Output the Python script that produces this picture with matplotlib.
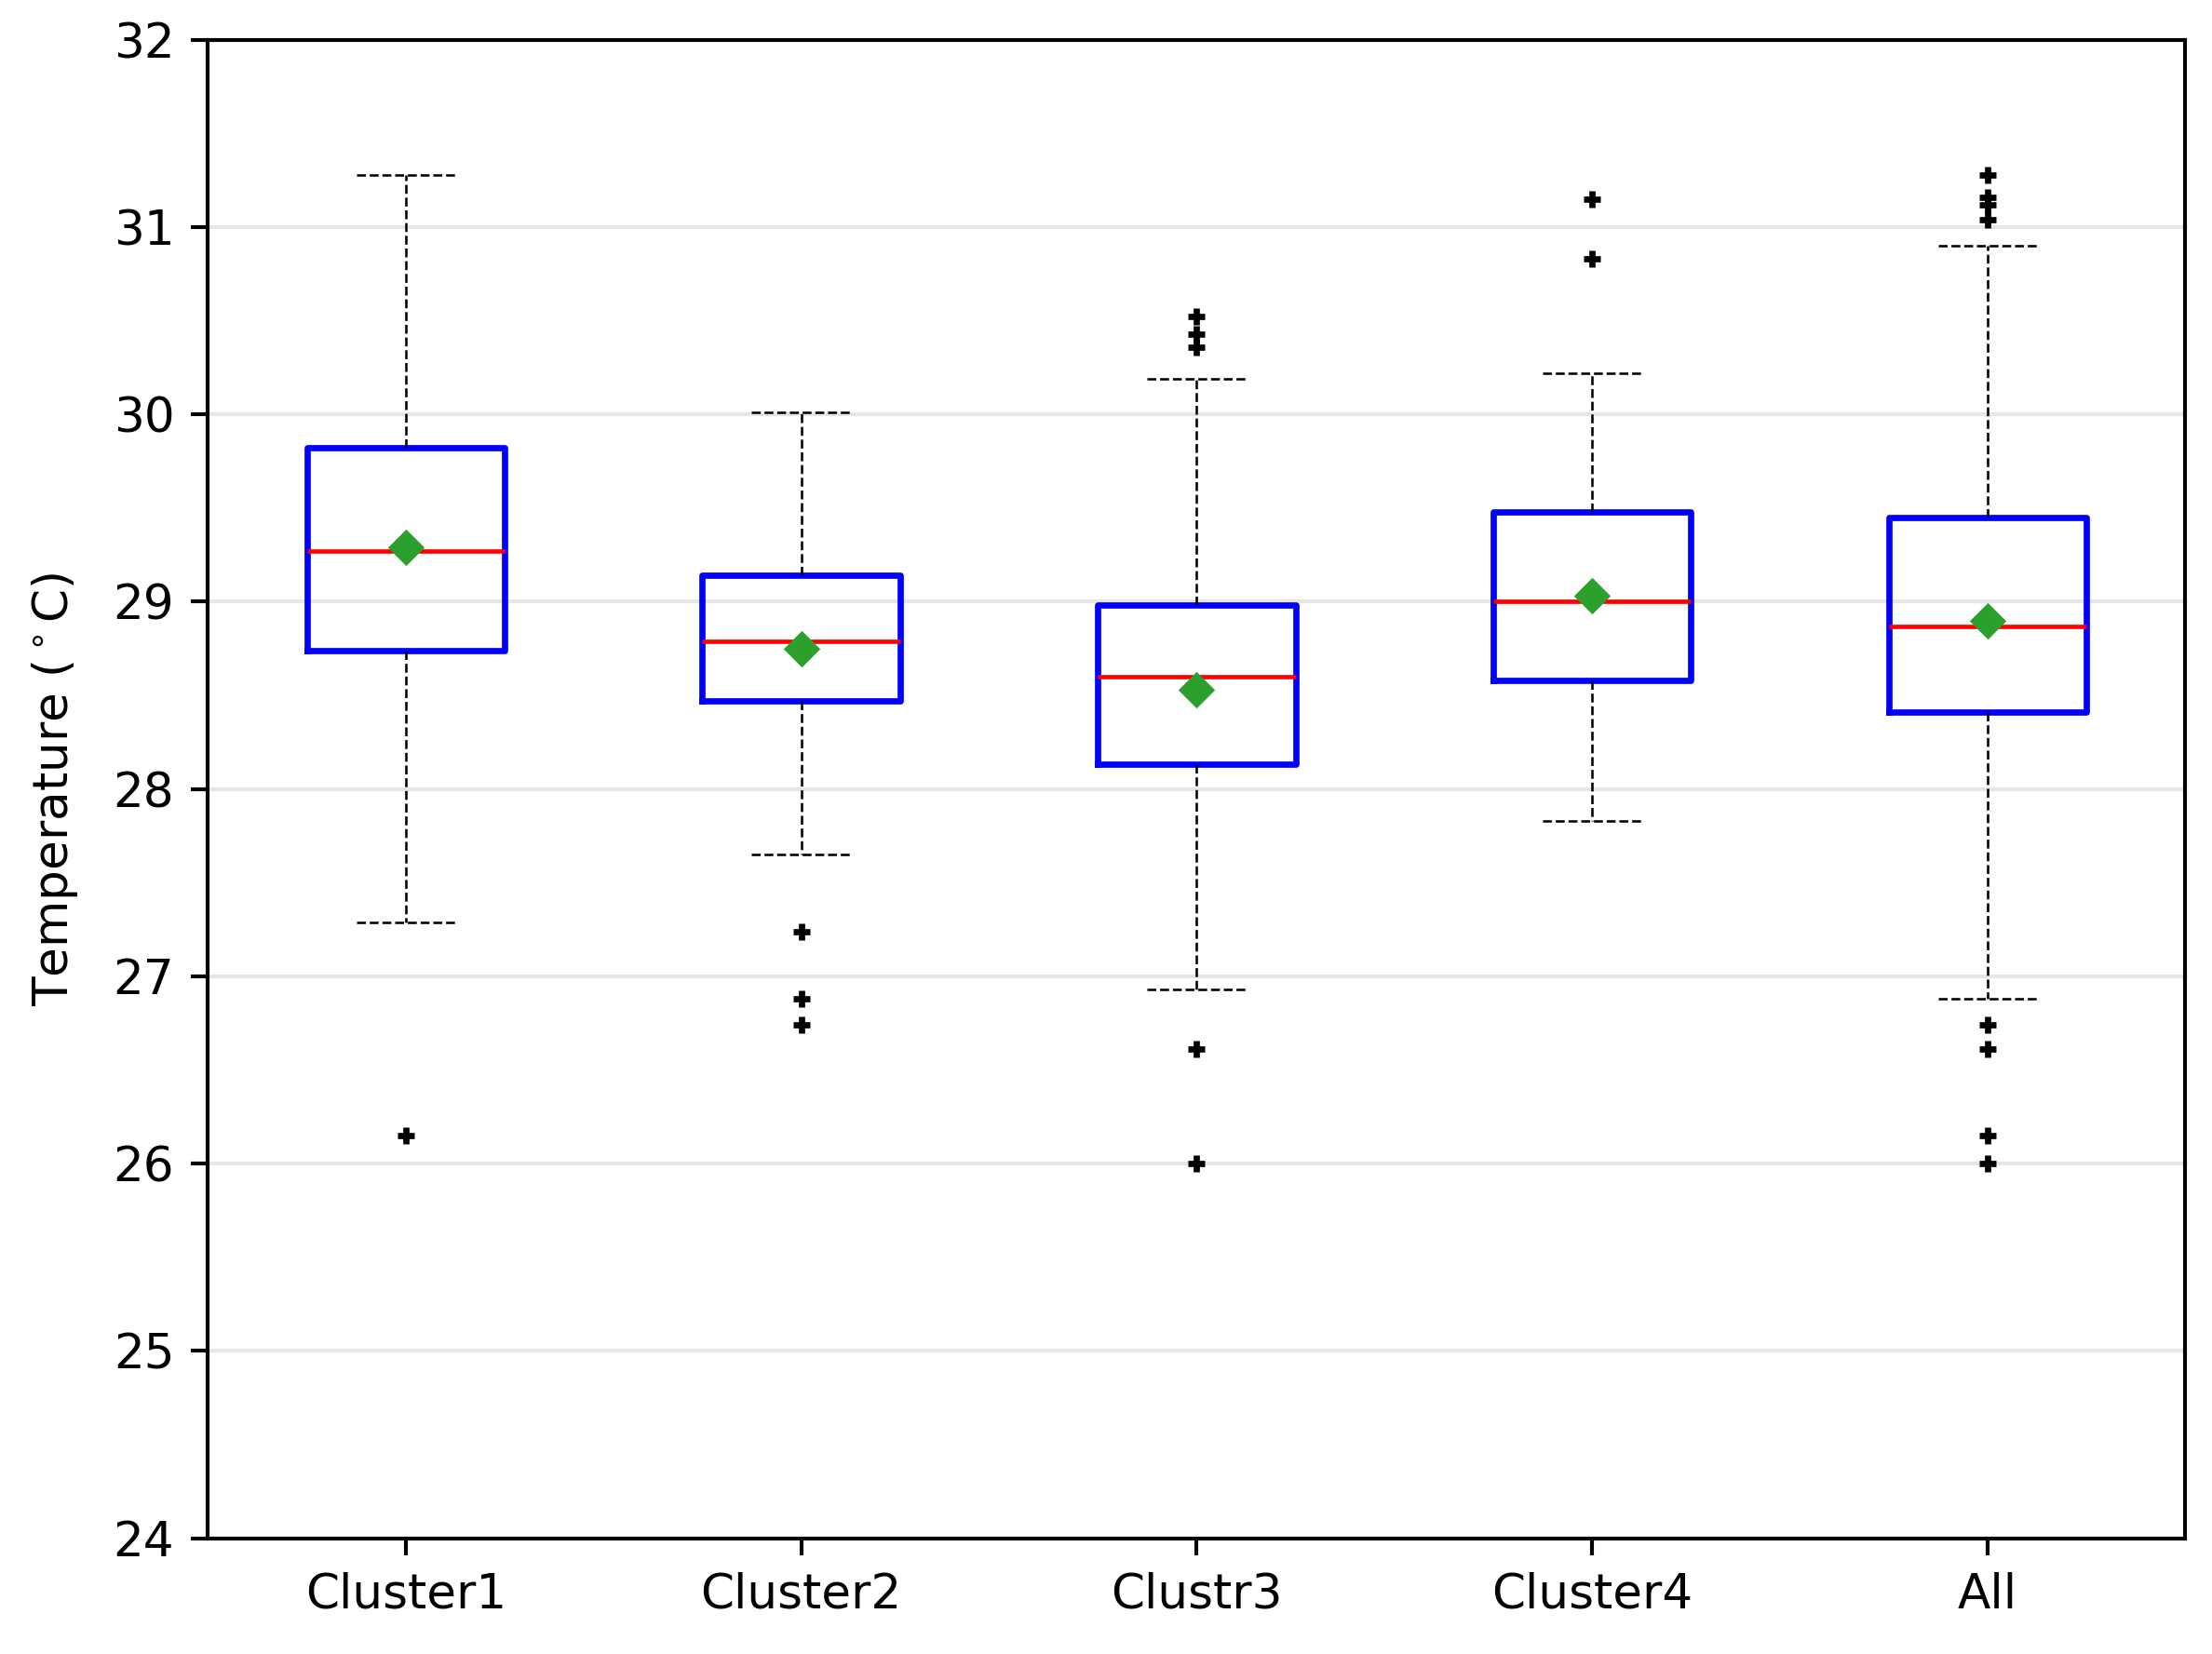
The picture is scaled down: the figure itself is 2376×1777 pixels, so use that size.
import matplotlib
matplotlib.use('Agg')
import matplotlib.pyplot as plt

# values
labels = ['Cluster1', 'Cluster2', 'Clustr3', 'Cluster4', 'All']
whislo = [27.29, 27.65, 26.93, 27.83, 26.88]
q1     = [28.74, 28.47, 28.13, 28.58, 28.41]
med    = [29.27, 28.79, 28.60, 29.00, 28.87]
mean   = [29.29, 28.75, 28.53, 29.03, 28.90]
q3     = [29.82, 29.14, 28.98, 29.48, 29.45]
whishi = [31.28, 30.01, 30.19, 30.22, 30.90]
fliers = [
  [26.15],
  [27.24, 26.88, 26.74],
  [30.52, 30.43, 30.36, 26.61, 26.00],
  [31.15, 30.83],
  [31.28, 31.16, 31.12, 31.04, 26.74, 26.61, 26.15, 26.00],
]

stats = []
for i in range(len(labels)):
  stats.append(dict(label=labels[i], whislo=whislo[i], q1=q1[i], med=med[i],
                    mean=mean[i], q3=q3[i], whishi=whishi[i], fliers=fliers[i]))

dpi = 371.25
fig = plt.figure(figsize=(2376 / dpi, 1777 / dpi), dpi=dpi)
ax = fig.add_axes([0.094, 0.070, 0.894, 0.906])

ax.bxp(stats, showmeans=True, widths=0.5,
       boxprops=dict(color='blue', linewidth=1.3),
       medianprops=dict(color='red', linewidth=0.9),
       whiskerprops=dict(color='black', linewidth=0.5, linestyle='--'),
       capprops=dict(color='black', linewidth=0.5, linestyle='--'),
       meanprops=dict(marker='D', markerfacecolor='#2ca02c', markeredgecolor='#2ca02c', markersize=4.5),
       flierprops=dict(marker='+', markeredgecolor='black', markersize=3.5, markeredgewidth=1.3))

ax.set_ylim(24, 32)
ax.set_ylabel(r'Temperature ($^\circ$C)', labelpad=7)
ax.yaxis.grid(True, color='#e6e6e6', linewidth=0.8)
ax.set_axisbelow(True)

fig.savefig('out.png', dpi=dpi)
